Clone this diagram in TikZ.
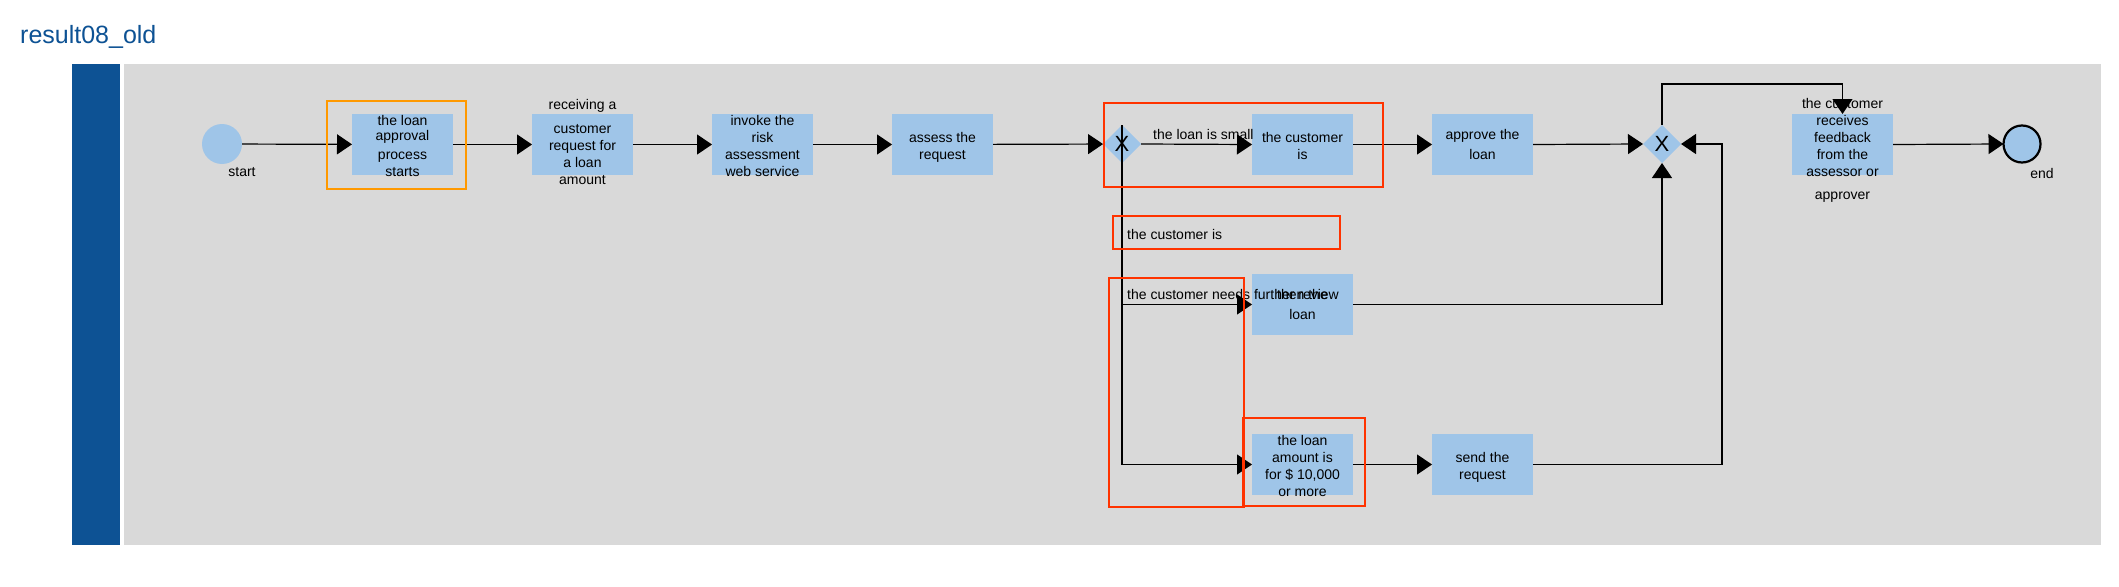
\documentclass[tikz,border=0pt]{standalone}
\usepackage{fontspec}
\setmainfont{Liberation Sans}
\usetikzlibrary{shapes.geometric,arrows.meta,calc}
\definecolor{lanebar}{HTML}{0D5294}
\definecolor{poolgray}{HTML}{D9D9D9}
\definecolor{taskfill}{HTML}{9FC5E8}
\definecolor{hlred}{HTML}{FF3300}
\definecolor{hlorange}{HTML}{FF9900}
\begin{document}
\begin{tikzpicture}[x=1pt,y=-1pt,
  taskbox/.style={fill=taskfill, minimum width=101pt, minimum height=61pt, inner sep=0pt, outer sep=0pt},
  tasktext/.style={font=\fontsize{14}{17}\selectfont, align=center, inner sep=0pt},
  lbl/.style={font=\fontsize{14}{17}\selectfont, inner sep=0pt},
  gateway/.style={diamond, fill=taskfill, minimum width=38pt, minimum height=38pt, inner sep=0pt, outer sep=0pt, font=\fontsize{22}{22}\selectfont},
  flow/.style={draw=black, line width=1.2pt, -{Triangle[length=15pt,width=20pt]}},
  plainflow/.style={draw=black, line width=1.2pt},
  redbox/.style={draw=hlred, line width=2pt},
  orangebox/.style={draw=hlorange, line width=2pt}]
\useasboundingbox (0,0) rectangle (2119,586);
\fill[white] (0,0) rectangle (2119,586);
% title
\node[anchor=base west, inner sep=0pt, text=lanebar, font=\fontsize{25}{25}\selectfont] (title) at (20,44) {result08\_old};
% pool
\fill[lanebar] (72,64) rectangle (120,545);
\fill[poolgray] (124,64) rectangle (2101,545);
% events
\node[circle, fill=taskfill, minimum size=40pt, inner sep=0pt, outer sep=0pt] (start) at (222,144) {};
\node[lbl] (startlbl) at (242,172) {start};
\node[circle, fill=taskfill, draw=black, line width=2.2pt, minimum size=37pt, inner sep=0pt, outer sep=0pt] (end) at (2022,144) {};
\node[lbl] (endlbl) at (2042,173) {end};
% tasks
\node[taskbox] (t1) at (402.5,144.5) {};
\node[taskbox] (t2) at (582.5,144.5) {};
\node[taskbox] (t3) at (762.5,144.5) {};
\node[taskbox] (t4) at (942.5,144.5) {};
\node[taskbox] (t5) at (1302.5,144.5) {};
\node[taskbox] (t6) at (1482.5,144.5) {};
\node[taskbox] (t7) at (1302.5,304.5) {};
\node[taskbox] (t8) at (1302.5,464.5) {};
\node[taskbox] (t9) at (1482.5,464.5) {};
\node[taskbox] (t10) at (1842.5,144.5) {};
% gateways
\node[gateway] (gw1) at (1122,144) {X};
\node[gateway] (gw2) at (1662,144) {X};
% task texts
\node[tasktext] (t1txt) at (402.5,145.5) {the loan\\[-2pt]approval\\[2pt]process\\starts};
\node[tasktext] (t2txt) at (582.5,141.5) {receiving a\\[7pt]customer\\request for\\a loan\\amount};
\node[tasktext] (t3txt) at (762.5,145.5) {invoke the\\risk\\assessment\\web service};
\node[tasktext] (t4txt) at (942.5,147) {assess the\\request};
\node[tasktext] (t5txt) at (1302.5,145.5) {the customer\\is};
\node[tasktext] (t6txt) at (1482.5,144) {approve the\\[3pt]loan};
\node[tasktext] (t7txt) at (1302.5,304) {then the\\[3pt]loan};
\node[tasktext] (t8txt) at (1302.5,465.5) {the loan\\amount is\\for \$ 10,000\\or more};
\node[tasktext] (t9txt) at (1482.5,467) {send the\\request};
\node[tasktext] (t10txt) at (1842.5,150) {the customer\\receives\\feedback\\from the\\assessor or\\[6pt]approver};
% edge labels
\node[lbl, anchor=west] (lsmall) at (1153,134) {the loan is small};
\node[lbl, anchor=west] (lreview) at (1127,294) {the customer needs further review};
\node[lbl, anchor=west] (lcust) at (1127,234) {the customer is};
% connectors
\coordinate (c9) at (1722,144);
\coordinate (c10) at (1842.5,84);
\draw[flow] (start) -- (t1);
\draw[flow] (t1) -- (t2);
\draw[flow] (t2) -- (t3);
\draw[flow] (t3) -- (t4);
\draw[flow] (t4) -- (gw1);
\draw[flow] (gw1.east) -- (t5.west);
\draw[flow] (gw1.north) |- (t7.west);
\draw[flow] (gw1.north) |- (t8.west);
\draw[flow] (t5) -- (t6);
\draw[flow] (t6.east) -- (gw2.west);
\draw[flow] (t7.east) -| (gw2.south);
\draw[flow] (t8) -- (t9);
\draw[flow] (t9.east) -| (c9) -- (gw2.east);
\draw[flow] (gw2.north) |- (c10) -- (t10.north);
\draw[flow] (t10.east) -- (end.west);
% highlight boxes
\node[orangebox, minimum width=139pt, minimum height=88pt, inner sep=0pt] (hl1) at (396.5,145) {};
\node[redbox, minimum width=279pt, minimum height=84pt, inner sep=0pt] (hl2) at (1243.5,145) {};
\node[redbox, minimum width=227pt, minimum height=33pt, inner sep=0pt] (hl3) at (1226.5,232.5) {};
\node[redbox, minimum width=135pt, minimum height=229pt, inner sep=0pt] (hl4) at (1176.5,392.5) {};
\node[redbox, minimum width=122pt, minimum height=88pt, inner sep=0pt] (hl5) at (1304,462) {};
\end{tikzpicture}
\end{document}
